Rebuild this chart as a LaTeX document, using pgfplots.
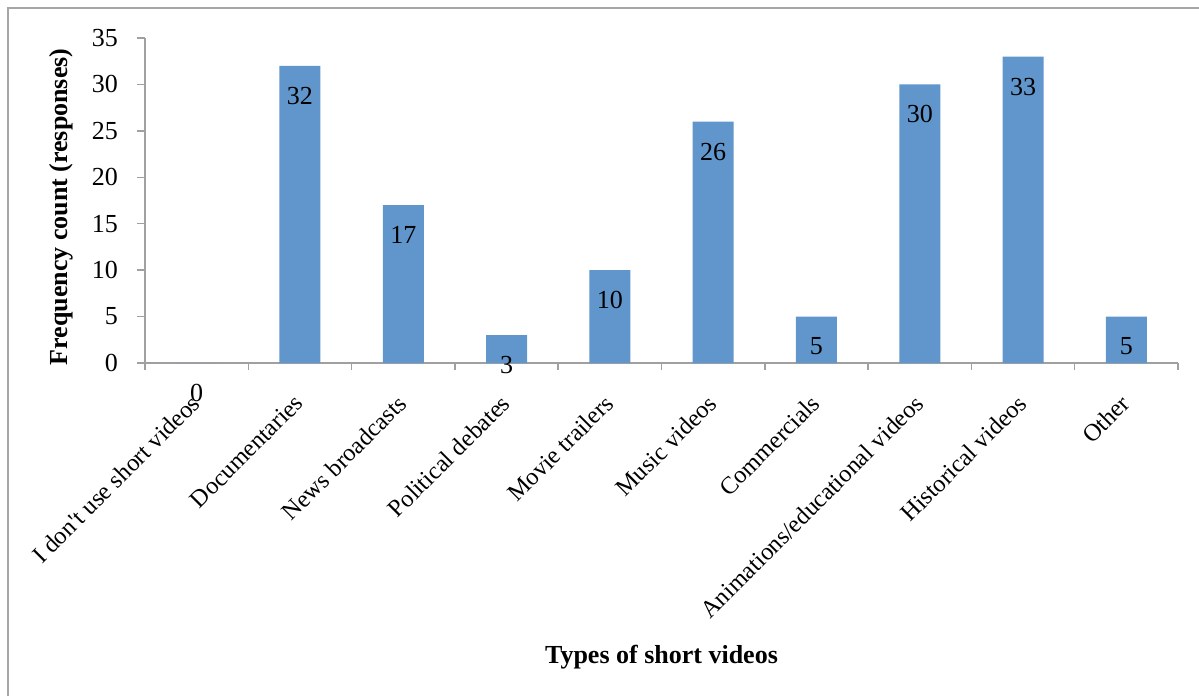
\documentclass[border=0pt]{standalone}
\usepackage{pgfplots}
\pgfplotsset{compat=1.18}
\usepackage{fontspec}
\setmainfont{Liberation Serif}
\definecolor{barblue}{RGB}{96,150,203}
\definecolor{axisgray}{RGB}{160,160,160}
\definecolor{framegray}{RGB}{166,166,166}
\begin{document}
\fontsize{13}{15.6}\selectfont
\begin{tikzpicture}
\useasboundingbox (0,0) rectangle (599.5pt,348pt);
% chart frame (left and top edges)
\draw[framegray, line width=1.1pt] (4pt,0) -- (4pt,344pt) -- (599.5pt,344pt);
\begin{axis}[
  at={(72.5pt,166.5pt)}, anchor=south west,
  scale only axis, width=516.5pt, height=162.5pt,
  ybar, bar width=20.5pt,
  xmin=-0.5, xmax=9.5, ymin=0, ymax=35,
  axis lines*=left,
  axis line style={axisgray, line width=0.75pt},
  xtick={0,...,9},
  xticklabels={I don\textquotesingle t use short videos, Documentaries, News broadcasts, Political debates, Movie trailers, Music videos, Commercials, Animations/educational videos, Historical videos, Other},
  x tick label style={font=\fontsize{12.2}{14}\selectfont, xshift=-3.5pt, yshift=-9.5pt, rotate=45, anchor=north east, inner sep=1pt},
  major x tick style={draw=none},
  minor xtick={-0.5,0.5,...,9.5},
  minor x tick style={axisgray, line width=0.75pt},
  ytick={0,5,...,35},
  y tick style={axisgray, line width=0.75pt},
  tick align=outside,
  major tick length=4pt, minor tick length=3.5pt,
  y tick label style={xshift=-5pt},
  /pgf/number format/assume math mode=true,
  xlabel={\textbf{Types of short videos}},
  ylabel={\textbf{Frequency count (responses)}},
  xlabel style={at={(axis description cs:0.5,-0.905)}, anchor=center},
  ylabel style={at={(axis description cs:-0.0813,0.48)}, anchor=center},
  nodes near coords,
  every node near coord/.append style={anchor=center, yshift=-15pt, text=black},
]
\addplot[fill=barblue, draw=none] coordinates {
  (0,0) (1,32) (2,17) (3,3) (4,10) (5,26) (6,5) (7,30) (8,33) (9,5)
};
\end{axis}
\end{tikzpicture}
\end{document}
